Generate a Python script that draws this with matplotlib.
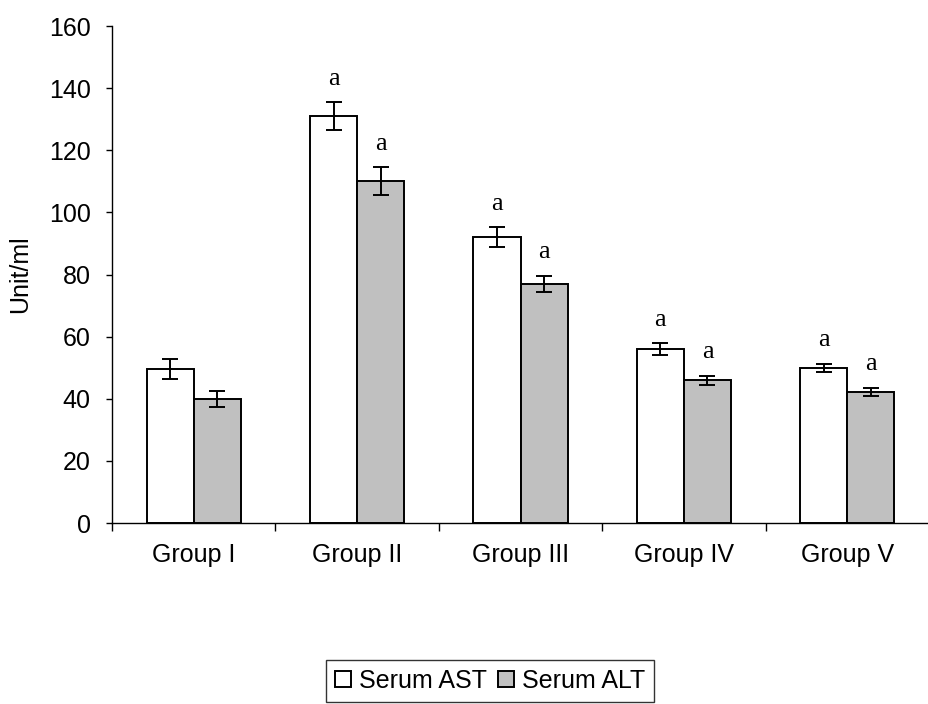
import matplotlib
matplotlib.use("Agg")
import matplotlib.pyplot as plt
import numpy as np

groups = ["Group I", "Group II", "Group III", "Group IV", "Group V"]
ast = [49.5, 131, 92, 56, 50]
ast_err = [3.2, 4.5, 3.2, 2.0, 1.3]
alt = [40, 110, 77, 46, 42.3]
alt_err = [2.6, 4.5, 2.6, 1.5, 1.3]
ast_sig = ["", "a", "a", "a", "a"]
alt_sig = ["", "a", "a", "a", "a"]

plt.rcParams['font.family'] = ['Liberation Sans', 'DejaVu Sans']

fig = plt.figure(figsize=(9.29, 7.04), dpi=100)
ax = fig.add_axes([0.1206, 0.257, 0.8794, 0.706])

x = np.arange(len(groups))
w = 0.288
err_kw = dict(ecolor='black', elinewidth=1.4, capsize=5.5, capthick=1.4)
ax.bar(x - w / 2, ast, w, yerr=ast_err, color='white', edgecolor='black',
       linewidth=1.4, error_kw=err_kw, label='Serum AST')
ax.bar(x + w / 2, alt, w, yerr=alt_err, color='#c0c0c0', edgecolor='black',
       linewidth=1.4, error_kw=err_kw, label='Serum ALT')

# significance letters above the error bars
for i in range(len(groups)):
    if ast_sig[i]:
        ax.text(x[i] - w / 2, ast[i] + ast_err[i] + 5.6, ast_sig[i], ha='center',
                va='baseline', fontsize=19, family='Liberation Serif')
    if alt_sig[i]:
        ax.text(x[i] + w / 2, alt[i] + alt_err[i] + 5.6, alt_sig[i], ha='center',
                va='baseline', fontsize=19, family='Liberation Serif')

ax.set_xlim(-0.5, len(groups) - 0.5)
ax.set_ylim(0, 160)
ax.set_yticks(range(0, 161, 20))
ax.set_xticks(np.arange(-0.5, len(groups), 1.0))
ax.set_xticklabels([])
ax.set_xticks(x, minor=True)
ax.set_xticklabels(groups, minor=True)
ax.tick_params(axis='x', which='minor', length=0, pad=14, labelsize=18)
ax.tick_params(axis='x', which='major', length=6, width=1.0, direction='out')
ax.tick_params(axis='y', length=4.5, width=1.0, labelsize=18, pad=11)
ax.spines['top'].set_visible(False)
ax.spines['right'].set_visible(False)
ax.spines['left'].set_linewidth(1.0)
ax.spines['bottom'].set_linewidth(1.0)
ax.text(-0.1126, 0.5, "Unit/ml", transform=ax.transAxes, rotation=90,
        ha='center', va='center', fontsize=18)

leg = fig.legend(loc='upper left', bbox_to_anchor=(0.3509, 0.0625), ncol=2,
                 fontsize=18, frameon=True, fancybox=False, edgecolor='black',
                 handlelength=0.64, handleheight=0.64, handletextpad=0.32,
                 columnspacing=0.44, borderpad=0.35, borderaxespad=0)
leg.get_frame().set_linewidth(1.0)

fig.savefig("out.png", dpi=100)
